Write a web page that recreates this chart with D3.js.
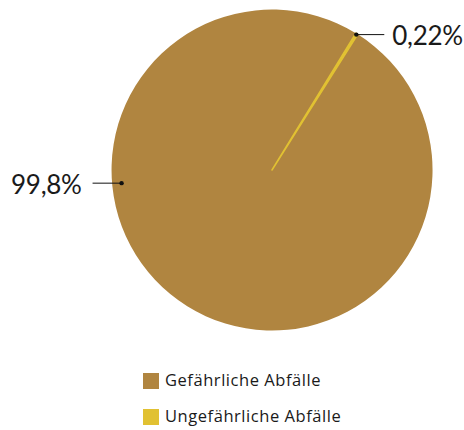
<!DOCTYPE html>
<html>
<head>
<meta charset="utf-8">
<script src="https://cdn.jsdelivr.net/npm/d3@7"></script>
<style>
  html, body { margin: 0; padding: 0; background: #fff; }
  svg { display: block; }
  text { font-family: Lato, "Open Sans", sans-serif; fill: #1a1a1a; }
</style>
</head>
<body>
<svg id="chart" width="464" height="430"></svg>
<script>
// Data
const categories = ["Gefährliche Abfälle", "Ungefährliche Abfälle"];
const values = [99.78, 0.22];
const valueLabels = ["99,8%", "0,22%"];
const colors = ["#B08540", "#E1C132"];

const W = 464, H = 430;
const cx = 272, cy = 170, R = 160.5;
const startAngle = 32.3 * Math.PI / 180;

const svg = d3.select("#chart");
const g = svg.append("g").attr("transform", `translate(${cx},${cy})`);

const pie = d3.pie().sort(null).value(d => d.v)
  .startAngle(startAngle).endAngle(startAngle + 2 * Math.PI);
const data = pie(categories.map((c, i) => ({ c, v: values[i], i })));
const arc = d3.arc().innerRadius(0).outerRadius(R);

g.selectAll("path.slice").data(data).enter().append("path")
  .attr("class", "slice")
  .attr("d", arc)
  .attr("fill", d => colors[d.data.i])
  .attr("stroke", d => d.data.i === 1 ? colors[1] : "none")
  .attr("stroke-width", 1.5)
  .attr("stroke-linejoin", "round");

// Labels: anchor point, horizontal connector
const labelAngles = [265 * Math.PI / 180, null];
const labelRadii = [151, R - 1];
data.forEach(d => {
  const i = d.data.i;
  const a = labelAngles[i] != null ? labelAngles[i] : (d.startAngle + d.endAngle) / 2;
  const rr = labelRadii[i];
  const px = Math.sin(a) * rr, py = -Math.cos(a) * rr;
  const right = Math.sin(a) > 0;
  const x2 = px + (right ? 28 : -29);
  g.append("line").attr("x1", px).attr("y1", py).attr("x2", x2).attr("y2", py)
    .attr("stroke", "#111").attr("stroke-width", 1);
  g.append("circle").attr("cx", px).attr("cy", py).attr("r", 2.2).attr("fill", "#111");
  g.append("text")
    .attr("x", x2 + (right ? 8 : -11))
    .attr("y", py + 4)
    .attr("text-anchor", right ? "start" : "end")
    .attr("dominant-baseline", "middle")
    .style("font-size", "26px")
    .style("letter-spacing", "-0.3px")
    .text(valueLabels[i]);
});

// Legend
const legend = svg.append("g").attr("transform", "translate(143,373)");
const items = legend.selectAll("g").data(categories).enter().append("g")
  .attr("transform", (d, i) => `translate(0,${i * 36})`);
items.append("rect").attr("width", 16).attr("height", 16)
  .attr("fill", (d, i) => colors[i]);
items.append("text").attr("x", 22).attr("y", 8.5)
  .attr("dominant-baseline", "middle")
  .style("font-family", "'Open Sans', sans-serif")
  .style("font-size", "16.5px")
  .style("letter-spacing", "0.55px")
  .text(d => d);
</script>
</body>
</html>
